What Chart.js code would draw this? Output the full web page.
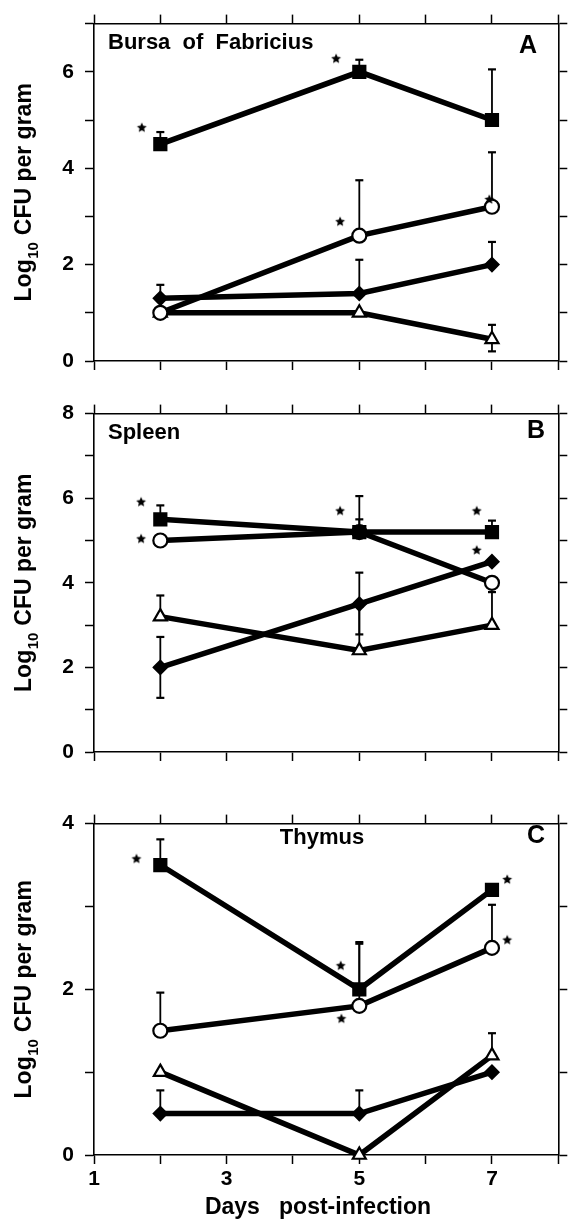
<!DOCTYPE html>
<html>
<head>
<meta charset="utf-8">
<script src="https://cdn.jsdelivr.net/npm/chart.js@4.4.0/dist/chart.umd.min.js"></script>
<style>
  html, body { margin: 0; padding: 0; background: #fff; }
  #wrap { position: relative; width: 569px; height: 1220px; }
  canvas { position: absolute; left: 0; }
</style>
</head>
<body>
<div id="wrap">
  <canvas id="panelA" width="569" height="390" style="top:0px"></canvas>
  <canvas id="panelB" width="569" height="410" style="top:390px"></canvas>
  <canvas id="panelC" width="569" height="420" style="top:800px"></canvas>
</div>
<script>
const days = [2, 5, 7];
const xTickLabels = [1, 3, 5, 7];

// A - Bursa of Fabricius
const bursaSquare = [4.5, 6.0, 5.0];
const bursaSquareUp = [0.25, 0.25, 1.05];
const bursaCircle = [1.0, 2.6, 3.2];
const bursaCircleUp = [0, 1.15, 1.13];
const bursaDiamond = [1.3, 1.4, 2.0];
const bursaDiamondUp = [0.28, 0.7, 0.47];
const bursaTriangle = [1.0, 1.0, 0.45];
const bursaTriangleUp = [0, 0, 0.3];
const bursaTriangleDown = [0, 0, 0.25];
const bursaStarX = [1.72, 4.65, 4.71, 6.96];
const bursaStarY = [4.85, 6.28, 2.9, 3.36];

// B - Spleen
const spleenSquare = [5.5, 5.2, 5.2];
const spleenSquareUp = [0.33, 0.3, 0.27];
const spleenCircle = [5.0, 5.2, 4.0];
const spleenCircleUp = [0, 0.85, 0];
const spleenDiamond = [2.0, 3.5, 4.5];
const spleenDiamondUp = [0.72, 0.74, 0];
const spleenDiamondDown = [0.72, 0.72, 0];
const spleenTriangle = [3.2, 2.4, 3.0];
const spleenTriangleUp = [0.5, 1.03, 0.78];
const spleenStarX = [1.71, 1.71, 4.71, 6.77, 6.77];
const spleenStarY = [5.92, 5.05, 5.71, 5.71, 4.78];

// C - Thymus
const thymusSquare = [3.5, 2.0, 3.2];
const thymusSquareUp = [0.31, 0.57, 0];
const thymusCircle = [1.5, 1.8, 2.5];
const thymusCircleUp = [0.46, 0.75, 0.52];
const thymusDiamond = [0.5, 0.5, 1.0];
const thymusDiamondUp = [0.28, 0.28, 0];
const thymusTriangle = [1.0, 0.0, 1.2];
const thymusTriangleUp = [0, 0, 0.27];
const thymusStarX = [1.64, 4.72, 4.73, 7.23, 7.23];
const thymusStarY = [3.58, 2.29, 1.65, 3.33, 2.6];

const none = [0, 0, 0];
const FONT = '"Liberation Sans", Arial, Helvetica, sans-serif';

// small filled star used for the significance marks
const star = document.createElement('canvas');
star.width = 12; star.height = 12;
(function () {
  const c = star.getContext('2d');
  c.fillStyle = '#000';
  c.beginPath();
  for (let i = 0; i < 10; i++) {
    const r = i % 2 === 0 ? 5.2 : 2.4;
    const a = -Math.PI / 2 + i * Math.PI / 5;
    c.lineTo(6 + r * Math.cos(a), 6.5 + r * Math.sin(a));
  }
  c.closePath();
  c.fill();
})();

const marks = {
  square: { shape: 'rect', r: 8.5, fill: '#000' },
  circle: { shape: 'circle', r: 7, fill: '#fff' },
  diamond: { shape: 'rectRot', r: 6.5, fill: '#000' },
  triangle: { shape: 'triangle', r: 7.5, fill: '#fff' }
};

function series(values, m) {
  return {
    data: days.map((d, i) => ({ x: d, y: values[i] })),
    borderColor: '#000',
    borderWidth: 5.5,
    pointStyle: m.shape,
    pointRadius: m.r,
    pointBackgroundColor: m.fill,
    pointBorderColor: '#000',
    pointBorderWidth: 2.2,
    tension: 0,
    clip: false,
    order: 2
  };
}

function errors(values, up, down) {
  const pts = [];
  days.forEach((d, i) => {
    if (up[i] > 0) pts.push({ x: d, y: values[i] }, { x: d, y: values[i] + up[i] }, { x: d, y: null });
    if (down[i] > 0) pts.push({ x: d, y: values[i] }, { x: d, y: values[i] - down[i] }, { x: d, y: null });
  });
  return {
    data: pts,
    borderColor: '#000',
    borderWidth: 1.8,
    pointStyle: 'line',
    pointRadius: ctx => (ctx.dataIndex % 3 === 1 ? 4 : 0),
    pointBorderColor: '#000',
    pointBorderWidth: 2.2,
    spanGaps: false,
    clip: false,
    order: 3
  };
}

function stars(xs, ys) {
  return {
    data: xs.map((x, i) => ({ x: x, y: ys[i] })),
    showLine: false,
    pointStyle: star,
    pointRadius: 6,
    clip: false,
    order: 1
  };
}

const panelText = {
  id: 'panelText',
  afterDraw(chart, args, opts) {
    const ctx = chart.ctx;
    const a = chart.chartArea;
    ctx.save();
    ctx.fillStyle = '#000';
    ctx.textBaseline = 'middle';
    (opts.items || []).forEach(t => {
      ctx.font = t.font;
      ctx.textAlign = t.align || 'left';
      ctx.fillText(t.text, t.x, t.y);
    });
    // y axis title with subscript
    ctx.translate(25, (a.top + a.bottom) / 2);
    ctx.rotate(-Math.PI / 2);
    const big = 'bold 23px ' + FONT, small = 'bold 15px ' + FONT;
    ctx.font = big;
    const w1 = ctx.measureText('Log').width;
    const w3 = ctx.measureText(' CFU per gram').width;
    ctx.font = small;
    const w2 = ctx.measureText('10').width + 1;
    let x = -(w1 + w2 + w3) / 2;
    ctx.textAlign = 'left';
    ctx.font = big;
    ctx.fillText('Log', x, 0);
    x += w1;
    ctx.font = small;
    ctx.fillText('10', x + 0.5, 9);
    x += w2;
    ctx.font = big;
    ctx.fillText(' CFU per gram', x, 0);
    ctx.restore();
  }
};

function makePanel(id, cfg) {
  const canvas = document.getElementById(id);
  const H = canvas.height;
  const tickFont = { family: FONT, size: 21, weight: 'bold' };
  const grid = { drawOnChartArea: false, tickLength: 9, tickWidth: 1.5, tickColor: '#000' };
  const border = { color: '#000', width: 1.6 };
  new Chart(canvas, {
    type: 'line',
    data: { datasets: cfg.datasets },
    options: {
      responsive: false,
      animation: false,
      events: [],
      layout: { padding: 0 },
      plugins: {
        legend: { display: false },
        tooltip: { enabled: false },
        panelText: { items: cfg.text }
      },
      scales: {
        x: {
          type: 'linear', position: 'bottom', min: 1, max: 8,
          grid: grid, border: border,
          ticks: {
            display: cfg.xLabels, stepSize: 1, autoSkip: false, maxRotation: 0,
            font: tickFont, color: '#000', padding: 3,
            callback: v => (xTickLabels.includes(v) ? String(v) : '')
          },
          afterFit: s => { s.height = H - cfg.bottom; }
        },
        x2: {
          type: 'linear', position: 'top', min: 1, max: 8,
          grid: grid, border: border,
          ticks: { display: false, stepSize: 1, autoSkip: false },
          afterFit: s => { s.height = cfg.top; }
        },
        y: {
          type: 'linear', position: 'left', min: 0, max: cfg.yMax,
          grid: grid, border: border,
          ticks: {
            stepSize: 1, autoSkip: false, font: tickFont, color: '#000', padding: 11,
            callback: v => (v % 2 === 0 ? String(v) : '')
          },
          afterFit: s => { s.width = 94; }
        },
        y2: {
          type: 'linear', position: 'right', min: 0, max: cfg.yMax,
          grid: grid, border: border,
          ticks: { display: false, stepSize: 1, autoSkip: false },
          afterFit: s => { s.width = 9; }
        }
      }
    },
    plugins: [panelText]
  });
}

const labelFont = 'bold 22px ' + FONT;
const letterFont = 'bold 25px ' + FONT;

makePanel('panelA', {
  top: 22, bottom: 361, yMax: 7, xLabels: false,
  text: [
    { text: 'Bursa  of  Fabricius', x: 108, y: 43, font: labelFont },
    { text: 'A', x: 519, y: 46, font: letterFont }
  ],
  datasets: [
    errors(bursaSquare, bursaSquareUp, none),
    errors(bursaCircle, bursaCircleUp, none),
    errors(bursaDiamond, bursaDiamondUp, none),
    errors(bursaTriangle, bursaTriangleUp, bursaTriangleDown),
    series(bursaSquare, marks.square),
    series(bursaCircle, marks.circle),
    series(bursaDiamond, marks.diamond),
    series(bursaTriangle, marks.triangle),
    stars(bursaStarX, bursaStarY)
  ]
});

makePanel('panelB', {
  top: 20, bottom: 362, yMax: 8, xLabels: false,
  text: [
    { text: 'Spleen', x: 108, y: 43, font: labelFont },
    { text: 'B', x: 527, y: 41, font: letterFont }
  ],
  datasets: [
    errors(spleenSquare, spleenSquareUp, none),
    errors(spleenCircle, spleenCircleUp, none),
    errors(spleenDiamond, spleenDiamondUp, spleenDiamondDown),
    errors(spleenTriangle, spleenTriangleUp, none),
    series(spleenSquare, marks.square),
    series(spleenCircle, marks.circle),
    series(spleenDiamond, marks.diamond),
    series(spleenTriangle, marks.triangle),
    stars(spleenStarX, spleenStarY)
  ]
});

makePanel('panelC', {
  top: 14, bottom: 355, yMax: 4, xLabels: true,
  text: [
    { text: 'Thymus', x: 322, y: 38, font: labelFont, align: 'center' },
    { text: 'C', x: 527, y: 36, font: letterFont },
    { text: 'Days   post-infection', x: 318, y: 408, font: 'bold 23px ' + FONT, align: 'center' }
  ],
  datasets: [
    errors(thymusSquare, thymusSquareUp, none),
    errors(thymusCircle, thymusCircleUp, none),
    errors(thymusDiamond, thymusDiamondUp, none),
    errors(thymusTriangle, thymusTriangleUp, none),
    series(thymusSquare, marks.square),
    series(thymusCircle, marks.circle),
    series(thymusDiamond, marks.diamond),
    series(thymusTriangle, marks.triangle),
    stars(thymusStarX, thymusStarY)
  ]
});
</script>
</body>
</html>
